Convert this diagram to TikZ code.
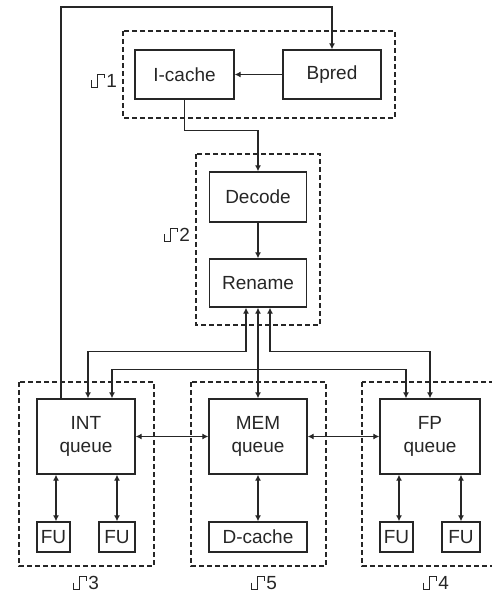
\documentclass[tikz,border=0pt]{standalone}
\usepackage{fontspec}
\setmainfont{Liberation Sans}
\usepackage{tikz}
\usetikzlibrary{arrows.meta,positioning,calc}
% small clock mark in front of the stage numbers
\newcommand{\clk}{\tikz[baseline=0pt,x=1pt,y=1pt,line width=1.1pt]
  \draw (0,7)--(0,0)--(6,0)--(6,13)--(13,13)--(13,9);\hspace{1pt}}

\begin{document}
\begin{tikzpicture}[
      x=1pt, y=-1pt,
      font=\fontsize{19}{23}\selectfont,
      box/.style={draw=black!85, line width=1.3pt, inner sep=0pt,
                  align=center, text=black!85},
      stage/.style={draw=black!85, line width=1.2pt, dashed, dash pattern=on 5pt off 3pt},
      arrow/.style={-{Latex[length=6pt,width=6pt]}, line width=1.3pt, black!85},
      biarrow/.style={{Latex[length=6pt,width=6pt]}-{Latex[length=6pt,width=6pt]},
                      line width=1.3pt, black!85},
      lab/.style={text=black!85, inner sep=0pt}
    ]
    \useasboundingbox (0,0) rectangle (491,593);
    % fetch stage
    \node[box, minimum width=99pt, minimum height=49pt] (icache) at (184.5,74.5) {I-cache};
    \node[box, minimum width=98pt, minimum height=49pt] (bpred) at (332,74.5) {Bpred};
    \draw[stage] (123,31) rectangle (395,118);
    \node[lab] (s1) at (104,81) {\clk 1};
    % decode stage
    \node[box, minimum width=97pt, minimum height=50pt] (decode) at (258,197) {Decode};
    \node[box, minimum width=97pt, minimum height=48pt] (rename) at (258,283) {Rename};
    \draw[stage] (196,154) rectangle (320,325);
    \node[lab] (s2) at (177,235) {\clk 2};
    % issue queues
    \node[box, minimum width=98pt, minimum height=75pt] (intq) at (86,436.5) {INT\\queue};
    \node[box, minimum width=98pt, minimum height=75pt] (memq) at (258,436.5) {MEM\\queue};
    \node[box, minimum width=100pt, minimum height=75pt] (fpq) at (430,436.5) {FP\\queue};
    % units
    \node[box, minimum width=33pt, minimum height=30pt] (fu1) at (53.5,537) {FU};
    \node[box, minimum width=36pt, minimum height=30pt] (fu2) at (117,537) {FU};
    \node[box, minimum width=98pt, minimum height=30pt] (dcache) at (258,537) {D-cache};
    \node[box, minimum width=33pt, minimum height=30pt] (fu3) at (396.5,537) {FU};
    \node[box, minimum width=38pt, minimum height=30pt] (fu4) at (461,537) {FU};
    \draw[stage] (19,382) rectangle (154,566);
    \draw[stage] (191,382) rectangle (326,566);
    \draw[stage] (362,382) rectangle (496,566);
    \node[lab] (s3) at (86,583) {\clk 3};
    \node[lab] (s5) at (264,583) {\clk 5};
    \node[lab] (s4) at (436,583) {\clk 4};
    % front end
    \coordinate (looptop) at (61,7);
    \draw[arrow] ([xshift=-25pt]intq.north) -- (looptop) -| (bpred.north);
    \draw[arrow] (bpred.west) -- (icache.east);
    \draw[arrow] (icache.south) -- ++(0,31) -| (decode.north);
    \draw[arrow] (decode.south) -- (rename.north);
    % rename to queues
    \draw[biarrow] ([xshift=-12pt]rename.south) -- ++(0,44) -| ([xshift=2pt]intq.north);
    \draw[biarrow] ([xshift=12pt]rename.south) -- ++(0,44) -| (fpq.north);
    \draw[biarrow] (rename.south) -- (memq.north);
    \path (rename.south) ++(0,62) coordinate (split);
    \draw[arrow] (split) -| ([xshift=26pt]intq.north);
    \draw[arrow] (split) -| ([xshift=-24pt]fpq.north);
    % queues
    \draw[biarrow] (intq.east) -- (memq.west);
    \draw[biarrow] (memq.east) -- (fpq.west);
    \draw[biarrow] ([xshift=2.5pt]fu1.north |- intq.south) -- ([xshift=2.5pt]fu1.north);
    \draw[biarrow] (fu2.north |- intq.south) -- (fu2.north);
    \draw[biarrow] (memq.south) -- (dcache.north);
    \draw[biarrow] ([xshift=2.5pt]fu3.north |- fpq.south) -- ([xshift=2.5pt]fu3.north);
    \draw[biarrow] (fu4.north |- fpq.south) -- (fu4.north);
  \end{tikzpicture}
\end{document}
